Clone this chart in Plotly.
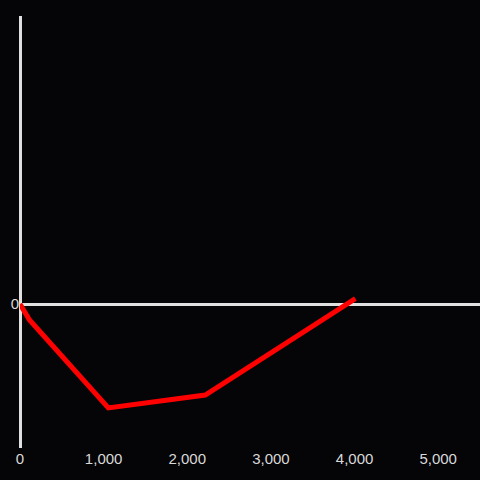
import plotly.graph_objects as go

x_vals = [0, 114, 1056, 2215, 4010]
y_vals = [0, -11.1, -72.2, -63.2, 3.8]
x_ticks = [0, 1000, 2000, 3000, 4000, 5000]
x_tick_labels = ["0", "1,000", "2,000", "3,000", "4,000", "5,000"]

fig = go.Figure()
fig.add_trace(go.Scatter(x=x_vals, y=y_vals, mode="lines",
                         line=dict(color="#ff0000", width=5), hoverinfo="skip"))

fig.update_layout(
    width=480, height=480,
    margin=dict(l=20, r=0, t=16, b=32),
    paper_bgcolor="#050407", plot_bgcolor="#050407",
    showlegend=False,
    font=dict(family="Liberation Sans, Arial, sans-serif", size=15, color="#d9d9d9"),
    xaxis=dict(range=[0, 5500], tickvals=x_ticks, ticktext=x_tick_labels,
               showgrid=False, zeroline=True, zerolinecolor="#e0e0e0", zerolinewidth=3,
               showline=False, ticks="", fixedrange=True),
    yaxis=dict(range=[-100, 200], tickvals=[0], ticktext=["0"],
               showgrid=False, zeroline=True, zerolinecolor="#e0e0e0", zerolinewidth=3,
               showline=False, ticks="", fixedrange=True),
)
fig.write_html(
    "out.html",
    config={"displayModeBar": False},
    post_script="document.body.style.margin='0';document.body.style.background='#050407';",
)
